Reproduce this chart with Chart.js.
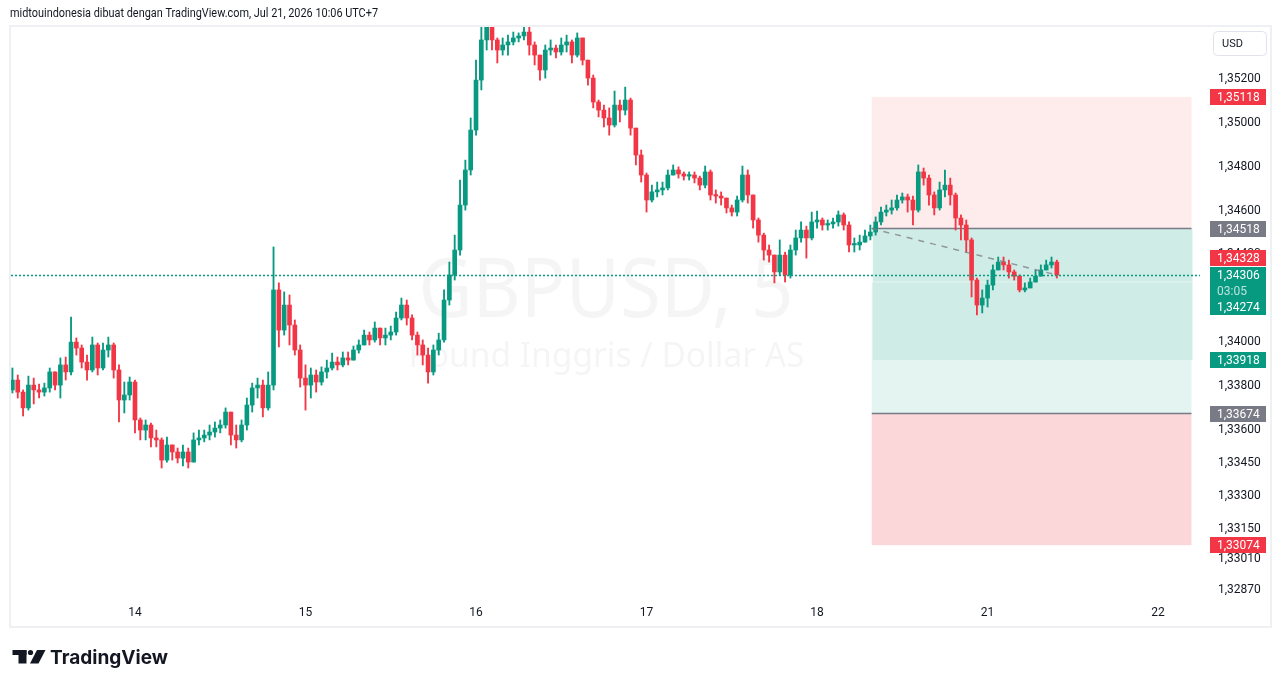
<!DOCTYPE html>
<html lang="id">
<head>
<meta charset="UTF-8">
<title>GBPUSD, 5 - TradingView</title>
<script src="https://cdn.jsdelivr.net/npm/chart.js@4.4.1/dist/chart.umd.min.js"></script>
<style>
  html, body { margin: 0; padding: 0; background: #fff; overflow: hidden; }
</style>
</head>
<body>
<canvas id="chart" width="1281" height="688"></canvas>
<script>
// time axis: hours from the 14th 00:00, weekend removed (18 -> 21)
const dayHours = [0, 24, 48, 72, 96, 120, 144];
const dayLabels = ['14', '15', '16', '17', '18', '21', '22'];
const priceTicks = [1.352, 1.350, 1.348, 1.346, 1.344, 1.342, 1.340, 1.338, 1.336, 1.3345, 1.333, 1.3315, 1.3301, 1.3287];

// candles, one every 45 min
const candleStart = -17.25;
const candleStep = 0.75;
const firstOpen = 1.33782;
const closes = [
  1.33827, 1.33772, 1.33700, 1.33804, 1.33782, 1.33772, 1.33791, 1.33864, 1.33804, 1.33896,
  1.33864, 1.34000, 1.33973, 1.33909, 1.33873, 1.33987, 1.33882, 1.33964, 1.33987, 1.33873,
  1.33736, 1.33759, 1.33818, 1.33645, 1.33599, 1.33622, 1.33563, 1.33554, 1.33462, 1.33531,
  1.33499, 1.33471, 1.33499, 1.33453, 1.33554, 1.33563, 1.33576, 1.33590, 1.33608, 1.33622,
  1.33681, 1.33576, 1.33554, 1.33622, 1.33713, 1.33791, 1.33804, 1.33700, 1.33804, 1.34238,
  1.34055, 1.34169, 1.34078, 1.33964, 1.33836, 1.33804, 1.33850, 1.33818, 1.33864, 1.33882,
  1.33909, 1.33896, 1.33928, 1.33918, 1.33964, 1.33987, 1.34032, 1.34010, 1.34064, 1.34019,
  1.34032, 1.34046, 1.34110, 1.34169, 1.34110, 1.34032, 1.33987, 1.33941, 1.33864, 1.33964,
  1.34010, 1.34192, 1.34306, 1.34420, 1.34625, 1.34785, 1.34967, 1.35195, 1.35378, 1.35446,
  1.35378, 1.35332, 1.35355, 1.35369, 1.35387, 1.35396, 1.35414, 1.35355, 1.35309, 1.35241,
  1.35332, 1.35341, 1.35323, 1.35355, 1.35369, 1.35309, 1.35387, 1.35286, 1.35204, 1.35095,
  1.35058, 1.35022, 1.34990, 1.35081, 1.35058, 1.35104, 1.34976, 1.34853, 1.34762, 1.34648,
  1.34685, 1.34694, 1.34703, 1.34762, 1.34785, 1.34767, 1.34757, 1.34762, 1.34748, 1.34716,
  1.34776, 1.34671, 1.34666, 1.34657, 1.34612, 1.34593, 1.34648, 1.34762, 1.34671, 1.34557,
  1.34488, 1.34420, 1.34397, 1.34320, 1.34397, 1.34306, 1.34420, 1.34475, 1.34511, 1.34475,
  1.34548, 1.34557, 1.34534, 1.34539, 1.34548, 1.34580, 1.34534, 1.34443, 1.34443, 1.34456,
  1.34484, 1.34502, 1.34548, 1.34593, 1.34602, 1.34612, 1.34648, 1.34662, 1.34648, 1.34602,
  1.34776, 1.34748, 1.34671, 1.34612, 1.34694, 1.34716, 1.34671, 1.34566, 1.34534, 1.34466,
  1.34283, 1.34169, 1.34201, 1.34260, 1.34329, 1.34365, 1.34352, 1.34320, 1.34301, 1.34238,
  1.34247, 1.34274, 1.34301, 1.34329, 1.34352, 1.34365, 1.34306
];
const highs = [
  1.33882, 1.33850, 1.33782, 1.33845, 1.33836, 1.33809, 1.33813, 1.33882, 1.33864, 1.33928,
  1.33932, 1.34114, 1.34019, 1.33987, 1.33941, 1.34023, 1.33996, 1.33996, 1.34023, 1.33996,
  1.33896, 1.33818, 1.33841, 1.33827, 1.33654, 1.33645, 1.33631, 1.33599, 1.33563, 1.33567,
  1.33531, 1.33517, 1.33531, 1.33517, 1.33586, 1.33599, 1.33599, 1.33622, 1.33636, 1.33645,
  1.33700, 1.33681, 1.33622, 1.33645, 1.33745, 1.33813, 1.33836, 1.33827, 1.33864, 1.34434,
  1.34270, 1.34229, 1.34215, 1.34101, 1.33987, 1.33896, 1.33882, 1.33873, 1.33887, 1.33918,
  1.33950, 1.33932, 1.33955, 1.33955, 1.33982, 1.34010, 1.34055, 1.34046, 1.34092, 1.34055,
  1.34064, 1.34073, 1.34137, 1.34201, 1.34192, 1.34124, 1.34046, 1.34010, 1.33973, 1.33987,
  1.34041, 1.34238, 1.34365, 1.34488, 1.34739, 1.34830, 1.35022, 1.35286, 1.35437, 1.35492,
  1.35469, 1.35387, 1.35387, 1.35400, 1.35414, 1.35410, 1.35446, 1.35460, 1.35369, 1.35309,
  1.35355, 1.35378, 1.35355, 1.35387, 1.35400, 1.35378, 1.35410, 1.35387, 1.35286, 1.35218,
  1.35104, 1.35081, 1.35068, 1.35145, 1.35104, 1.35163, 1.35113, 1.34976, 1.34876, 1.34771,
  1.34716, 1.34730, 1.34730, 1.34785, 1.34808, 1.34799, 1.34776, 1.34776, 1.34776, 1.34757,
  1.34803, 1.34785, 1.34694, 1.34685, 1.34657, 1.34625, 1.34666, 1.34803, 1.34785, 1.34671,
  1.34566, 1.34497, 1.34443, 1.34397, 1.34466, 1.34410, 1.34443, 1.34511, 1.34548, 1.34529,
  1.34593, 1.34598, 1.34566, 1.34557, 1.34566, 1.34598, 1.34589, 1.34548, 1.34475, 1.34488,
  1.34511, 1.34534, 1.34571, 1.34616, 1.34625, 1.34648, 1.34671, 1.34680, 1.34675, 1.34666,
  1.34808, 1.34794, 1.34762, 1.34685, 1.34730, 1.34785, 1.34748, 1.34680, 1.34580, 1.34557,
  1.34475, 1.34292, 1.34238, 1.34283, 1.34352, 1.34388, 1.34388, 1.34374, 1.34329, 1.34306,
  1.34270, 1.34292, 1.34329, 1.34352, 1.34374, 1.34388, 1.34374
];
const lows = [
  1.33768, 1.33745, 1.33663, 1.33690, 1.33718, 1.33745, 1.33754, 1.33772, 1.33782, 1.33745,
  1.33827, 1.33850, 1.33941, 1.33882, 1.33827, 1.33864, 1.33850, 1.33873, 1.33932, 1.33836,
  1.33636, 1.33677, 1.33736, 1.33586, 1.33554, 1.33554, 1.33522, 1.33522, 1.33426, 1.33453,
  1.33462, 1.33449, 1.33435, 1.33426, 1.33453, 1.33531, 1.33545, 1.33554, 1.33567, 1.33586,
  1.33608, 1.33531, 1.33517, 1.33545, 1.33599, 1.33681, 1.33745, 1.33659, 1.33690, 1.33782,
  1.33978, 1.34032, 1.33987, 1.33941, 1.33795, 1.33690, 1.33745, 1.33772, 1.33804, 1.33836,
  1.33873, 1.33873, 1.33887, 1.33896, 1.33918, 1.33950, 1.33987, 1.33987, 1.34000, 1.33987,
  1.33987, 1.34010, 1.34032, 1.34101, 1.34078, 1.34010, 1.33941, 1.33896, 1.33813, 1.33850,
  1.33941, 1.34000, 1.34169, 1.34283, 1.34397, 1.34602, 1.34762, 1.34944, 1.35150, 1.35332,
  1.35332, 1.35273, 1.35309, 1.35309, 1.35355, 1.35369, 1.35378, 1.35309, 1.35264, 1.35195,
  1.35204, 1.35309, 1.35296, 1.35309, 1.35323, 1.35273, 1.35300, 1.35264, 1.35172, 1.35068,
  1.35027, 1.34981, 1.34944, 1.34981, 1.35004, 1.35036, 1.34944, 1.34808, 1.34730, 1.34593,
  1.34639, 1.34662, 1.34671, 1.34694, 1.34762, 1.34748, 1.34739, 1.34739, 1.34726, 1.34694,
  1.34703, 1.34648, 1.34634, 1.34625, 1.34589, 1.34575, 1.34575, 1.34639, 1.34634, 1.34520,
  1.34456, 1.34374, 1.34365, 1.34270, 1.34306, 1.34274, 1.34292, 1.34397, 1.34456, 1.34383,
  1.34466, 1.34520, 1.34511, 1.34511, 1.34520, 1.34529, 1.34511, 1.34411, 1.34411, 1.34420,
  1.34456, 1.34466, 1.34488, 1.34534, 1.34575, 1.34584, 1.34602, 1.34634, 1.34593, 1.34534,
  1.34593, 1.34716, 1.34625, 1.34580, 1.34602, 1.34662, 1.34625, 1.34511, 1.34466, 1.34411,
  1.34206, 1.34124, 1.34133, 1.34160, 1.34238, 1.34329, 1.34329, 1.34292, 1.34283, 1.34229,
  1.34229, 1.34247, 1.34274, 1.34301, 1.34329, 1.34338, 1.34292
];

// position tool levels
const shortStop = 1.35118, shortEntry = 1.34518, shortTarget = 1.33918;
const longTarget = 1.34274, longEntry = 1.33674, longStop = 1.33074;
const bidPrice = 1.34328;
const countdown = '03:05';
const boxStartHour = 103.7, boxEndHour = 148.7;

const UP = '#089981', DOWN = '#f23645', GRAY = '#787b86', TEXT = '#131722';
const FONT = 'Roboto, "Liberation Sans", sans-serif';

const times = closes.map((_, i) => candleStart + i * candleStep);
const opens = closes.map((c, i) => i === 0 ? firstOpen : closes[i - 1]);
const colors = closes.map((c, i) => c >= opens[i] ? UP : DOWN);
const wickData = times.map((t, i) => ({
  x: t, y: [Math.min(lows[i], opens[i], closes[i]), Math.max(highs[i], opens[i], closes[i])]
}));
const bodyData = times.map((t, i) => ({ x: t, y: [opens[i], closes[i]] }));
const lastPrice = closes[closes.length - 1];
const lastTime = times[times.length - 1];
const fmt = v => v.toFixed(5).replace('.', ',');

function fitText(ctx, text, x, y, width, font) {
  ctx.save();
  ctx.font = font;
  const w = ctx.measureText(text).width;
  ctx.translate(x, y);
  ctx.scale(width / w, 1);
  ctx.fillText(text, 0, 0);
  ctx.restore();
}

const overlay = {
  id: 'overlay',
  beforeDatasetsDraw(chart) {
    const { ctx, chartArea: a, scales: { x, y } } = chart;
    ctx.save();
    // watermark
    ctx.fillStyle = 'rgba(19,23,34,0.045)';
    ctx.textBaseline = 'alphabetic';
    const cx = (a.left + a.right) / 2;
    fitText(ctx, 'GBPUSD, 5', cx - 187, 317, 375, '82px "Noto Sans", sans-serif');
    fitText(ctx, 'Pound Inggris / Dollar AS', cx - 197, 367, 396, '34px "Noto Sans", sans-serif');

    // position boxes
    const x0 = x.getPixelForValue(boxStartHour), x1 = x.getPixelForValue(boxEndHour);
    const py = v => y.getPixelForValue(v);
    ctx.fillStyle = 'rgba(242,54,69,0.1)';
    ctx.fillRect(x0, py(shortStop), x1 - x0, py(shortEntry) - py(shortStop));
    ctx.fillStyle = 'rgba(8,153,129,0.11)';
    ctx.fillRect(x0, py(longTarget), x1 - x0, py(longEntry) - py(longTarget));
    ctx.fillStyle = '#d0ece6';
    ctx.fillRect(x0 + 1, py(shortEntry), x1 - x0, py(shortTarget) - py(shortEntry));
    ctx.fillStyle = 'rgba(255,255,255,0.45)';
    ctx.fillRect(x0 + 1, py(longTarget) - 0.5, x1 - x0, 1);
    ctx.fillStyle = 'rgba(242,54,69,0.2)';
    ctx.fillRect(x0, py(longEntry), x1 - x0, py(longStop) - py(longEntry));
    ctx.strokeStyle = GRAY;
    ctx.lineWidth = 1.5;
    [shortEntry, longEntry].forEach(v => {
      ctx.beginPath();
      ctx.moveTo(x0, py(v));
      ctx.lineTo(x1, py(v));
      ctx.stroke();
    });
    ctx.restore();
  },
  afterDatasetsDraw(chart) {
    const { ctx, chartArea: a, scales: { x, y } } = chart;
    ctx.save();
    // trade line
    ctx.strokeStyle = 'rgba(120,123,134,0.75)';
    ctx.lineWidth = 1.5;
    ctx.setLineDash([6, 6]);
    ctx.beginPath();
    ctx.moveTo(x.getPixelForValue(boxStartHour), y.getPixelForValue(shortEntry));
    ctx.lineTo(x.getPixelForValue(lastTime), y.getPixelForValue(lastPrice));
    ctx.stroke();
    // last price line
    const ly = Math.round(y.getPixelForValue(lastPrice)) + 0.5;
    ctx.strokeStyle = UP;
    ctx.lineWidth = 1.3;
    ctx.setLineDash([2, 2]);
    ctx.beginPath();
    ctx.moveTo(Math.round(a.left), ly);
    ctx.lineTo(a.right, ly);
    ctx.stroke();
    ctx.restore();
  },
  afterDraw(chart) {
    const { ctx, scales: { y } } = chart;
    const py = v => y.getPixelForValue(v);
    ctx.save();
    ctx.textBaseline = 'middle';
    ctx.textAlign = 'left';
    const label = (yc, text, color) => {
      ctx.fillStyle = color;
      ctx.fillRect(1210, Math.round(yc) - 8, 56, 16);
      ctx.fillStyle = '#fff';
      ctx.font = '12px ' + FONT;
      ctx.fillText(text, 1217, Math.round(yc) + 0.5);
    };
    label(py(shortStop), fmt(shortStop), DOWN);
    label(py(shortEntry), fmt(shortEntry), GRAY);
    label(py(bidPrice) - 12, fmt(bidPrice), DOWN);
    label(py(shortTarget), fmt(shortTarget), UP);
    label(py(longEntry), fmt(longEntry), GRAY);
    label(py(longStop), fmt(longStop), DOWN);
    // current price block
    const top = Math.round(py(lastPrice)) - 8;
    ctx.fillStyle = UP;
    ctx.fillRect(1210, top, 56, 48);
    ctx.font = '12px ' + FONT;
    ctx.fillStyle = '#fff';
    ctx.fillText(fmt(lastPrice), 1217, top + 8.5);
    ctx.fillStyle = 'rgba(255,255,255,0.72)';
    ctx.fillText(countdown, 1217, top + 24.5);
    ctx.fillStyle = '#fff';
    ctx.fillText(fmt(longTarget), 1217, top + 40.5);

    // currency button
    ctx.strokeStyle = '#e0e3eb';
    ctx.lineWidth = 1;
    ctx.beginPath();
    ctx.roundRect(1213.5, 31.5, 53, 24, 4);
    ctx.stroke();
    ctx.fillStyle = TEXT;
    ctx.font = '11px ' + FONT;
    ctx.fillText('USD', 1222, 44);

    // header
    ctx.fillStyle = TEXT;
    ctx.textBaseline = 'alphabetic';
    fitText(ctx, 'midtouindonesia dibuat dengan TradingView.com, Jul 21, 2026 10:06 UTC+7', 10, 17, 368, '12px ' + FONT);

    // frame
    ctx.strokeStyle = '#eef0f3';
    ctx.lineWidth = 2;
    ctx.strokeRect(10, 26, 1261, 601);

    // TradingView logo
    ctx.fillStyle = TEXT;
    ctx.fillRect(12.5, 650, 14, 5);
    ctx.fillRect(18.5, 650, 8, 13.5);
    ctx.beginPath();
    ctx.arc(30.5, 652.5, 2.6, 0, Math.PI * 2);
    ctx.fill();
    ctx.beginPath();
    ctx.moveTo(37, 650); ctx.lineTo(45.5, 650); ctx.lineTo(38.5, 663.5); ctx.lineTo(30, 663.5);
    ctx.closePath();
    ctx.fill();
    fitText(ctx, 'TradingView', 50, 664, 118, 'bold 19px Inter, Roboto, sans-serif');
    ctx.restore();
  }
};

new Chart(document.getElementById('chart'), {
  type: 'bar',
  data: {
    datasets: [
      { label: 'wick', data: wickData, backgroundColor: colors, barThickness: 1.2, grouped: false, order: 2 },
      { label: 'body', data: bodyData, backgroundColor: colors, barThickness: 4, minBarLength: 1.5, grouped: false, order: 1 }
    ]
  },
  options: {
    responsive: false,
    animation: false,
    devicePixelRatio: 1,
    layout: { padding: { left: 11, top: 27, right: 11, bottom: 60 } },
    plugins: { legend: { display: false }, tooltip: { enabled: false } },
    scales: {
      x: {
        type: 'linear',
        min: -17.45,
        max: 149.9,
        offset: false,
        grid: { display: false, drawTicks: false },
        border: { display: false },
        afterBuildTicks: s => { s.ticks = dayHours.map(v => ({ value: v })); },
        afterFit: s => { s.height = 28; },
        ticks: {
          autoSkip: false, maxRotation: 0, padding: 6, color: TEXT,
          font: { family: FONT, size: 12 },
          callback: v => { const k = dayHours.indexOf(v); return k >= 0 ? dayLabels[k] : ''; }
        }
      },
      y: {
        type: 'linear',
        position: 'right',
        min: 1.32824,
        max: 1.35437,
        grid: { display: false, drawTicks: false },
        border: { display: false },
        afterBuildTicks: s => { s.ticks = priceTicks.map(v => ({ value: v })); },
        afterFit: s => { s.width = 70; },
        ticks: {
          autoSkip: false, padding: 18, color: TEXT,
          font: { family: FONT, size: 12 },
          callback: v => fmt(v)
        }
      }
    }
  },
  plugins: [overlay]
});
</script>
</body>
</html>
